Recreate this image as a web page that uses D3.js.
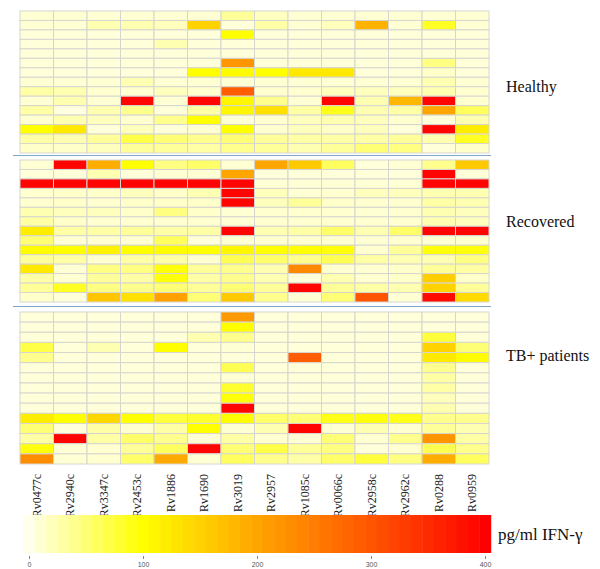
<!DOCTYPE html>
<html>
<head>
<meta charset="utf-8">
<script src="https://cdn.jsdelivr.net/npm/d3@7"></script>
<style>
  html, body { margin: 0; padding: 0; background: #ffffff; }
  svg { display: block; }
</style>
</head>
<body>
<svg id="chart" width="600" height="569"></svg>
<script>
// ---------------- DATA ----------------
const genes = ["Rv0477c","Rv2940c","Rv3347c","Rv2453c","Rv1886","Rv1690","Rv3019",
               "Rv2957","Rv1085c","Rv0066c","Rv2958c","Rv2962c","Rv0288","Rv0959"];

const groupNames = ["Healthy", "Recovered", "TB+ patients"];

// pg/ml IFN-γ, one row per subject, columns follow `genes`
const healthy = [
  [10,10,10,10,10,10,35,18,10,10,10,10,10,10],
  [10,10,25,25,20,150,8,30,10,20,185,10,85,10],
  [8,8,8,8,8,8,100,8,8,8,8,8,8,8],
  [8,8,8,8,25,8,8,8,8,8,8,8,8,8],
  [8,8,8,8,8,8,8,8,8,8,8,8,8,8],
  [8,8,8,8,8,8,220,8,8,8,8,8,45,8],
  [8,8,8,8,8,100,105,100,125,125,8,8,15,8],
  [10,10,10,25,10,10,10,10,10,10,10,10,25,10],
  [30,25,12,12,20,12,290,12,12,20,20,20,25,12],
  [10,25,10,395,10,395,110,40,10,395,25,180,395,12],
  [30,5,25,40,8,30,110,135,30,90,25,30,200,60],
  [12,25,20,12,40,100,10,12,20,25,20,12,8,25],
  [100,125,8,20,8,12,100,12,20,15,20,8,395,120],
  [30,25,35,70,50,40,50,35,30,30,30,35,25,85],
  [15,15,20,35,35,30,40,35,25,35,50,45,8,15]
];

const recovered = [
  [10,395,190,100,45,55,10,200,160,60,8,10,40,160],
  [8,8,25,8,10,10,200,8,8,8,8,8,395,8],
  [395,395,395,395,395,395,395,10,10,10,10,10,395,395],
  [12,15,15,20,15,25,395,20,10,12,20,20,25,25],
  [12,15,12,15,15,15,395,20,35,15,12,12,30,25],
  [25,20,20,15,45,15,10,12,12,12,10,12,25,20],
  [30,15,12,12,12,12,10,12,12,12,12,12,25,20],
  [120,30,30,35,30,30,395,25,30,55,25,55,395,395],
  [50,10,12,12,60,8,10,12,12,12,10,12,10,12],
  [105,100,115,100,105,100,110,100,100,95,12,35,95,95],
  [35,30,12,30,30,12,65,55,40,65,30,25,25,45],
  [125,10,45,45,95,35,40,25,235,12,12,15,35,30],
  [30,10,35,30,95,30,40,25,8,25,12,15,155,15],
  [35,85,45,40,50,35,50,35,395,35,30,25,150,35],
  [15,8,165,135,205,50,160,40,10,50,300,10,390,140]
];

const tbPatients = [
  [8,8,8,8,8,8,215,8,8,8,8,8,8,8],
  [8,8,8,8,8,8,100,8,8,8,8,8,8,8],
  [8,8,8,8,8,25,40,8,8,8,8,8,75,8],
  [70,8,25,8,100,8,10,8,8,8,8,8,150,50],
  [40,8,8,8,8,8,8,8,290,8,8,8,125,105],
  [8,8,8,8,8,8,65,8,8,8,8,8,40,8],
  [8,8,8,8,8,8,10,8,8,8,8,8,30,8],
  [8,8,8,8,8,8,80,8,8,8,8,8,30,8],
  [8,8,8,8,8,8,95,8,8,8,8,8,20,8],
  [8,8,8,8,8,8,395,8,8,8,8,8,25,8],
  [120,100,145,100,75,80,105,55,50,90,95,90,40,40],
  [50,8,30,12,30,100,10,25,395,10,25,12,35,25],
  [30,395,30,55,40,10,30,12,10,50,12,40,220,30],
  [95,10,12,35,60,395,50,70,35,45,8,12,65,40],
  [230,10,12,55,195,10,60,40,30,55,75,45,190,60]
];

const colorStops = [0, 100, 200, 300, 400];
const colorRange = ["#FFFFEC", "#FFFF00", "#FFA500", "#FF5500", "#FF0000"];
const legendTicks = [0, 100, 200, 300, 400];
const legendSteps = d3.range(0, 401, 10);

// ---------------- CHART ----------------
const SERIF = "font-family:'Liberation Serif';";
const SANS = "font-family:'Liberation Sans';";
const svg = d3.select("#chart");
const color = d3.scaleLinear().domain(colorStops).range(colorRange).clamp(true);

const x = d3.scaleBand().domain(genes).range([20, 489]).padding(0);

const panels = [
  { name: groupNames[0], rows: healthy,    y0: 11,  y1: 153, labelY: 92 },
  { name: groupNames[1], rows: recovered,  y0: 160, y1: 302, labelY: 227 },
  { name: groupNames[2], rows: tbPatients, y0: 312, y1: 464, labelY: 361 }
];

panels.forEach(p => {
  const y = d3.scaleBand().domain(d3.range(p.rows.length)).range([p.y0, p.y1]).padding(0);
  const g = svg.append("g");
  p.rows.forEach((row, ri) => {
    g.selectAll(null)
      .data(row.map((v, ci) => ({ v, gene: genes[ci] })))
      .enter().append("rect")
      .attr("x", d => x(d.gene))
      .attr("y", y(ri))
      .attr("width", x.bandwidth())
      .attr("height", y.bandwidth())
      .attr("fill", d => color(d.v))
      .attr("stroke", "#d6d6d0")
      .attr("stroke-width", 1);
  });
  svg.append("text")
    .attr("x", 506)
    .attr("y", p.labelY)
    .attr("style", SERIF + "font-size:16px")
    .attr("fill", "#111")
    .text(p.name);
});

// separators between groups
[155.5, 306.5].forEach(yy => {
  svg.append("line")
    .attr("x1", 13).attr("x2", 491)
    .attr("y1", yy).attr("y2", yy)
    .attr("stroke", "#7fa6c8")
    .attr("stroke-width", 1.2);
});

// column labels (rotated)
svg.append("g").selectAll("text")
  .data(genes)
  .enter().append("text")
  .attr("transform", d => `translate(${x(d) + x.bandwidth() / 2 + 4},474) rotate(-90)`)
  .attr("text-anchor", "end")
  .attr("style", SERIF + "font-size:12px")
  .attr("fill", "#222")
  .text(d => d);

// colour legend
const lx = d3.scaleLinear().domain([0, 400]).range([29, 485]);
const stepW = lx(10) - lx(0);
svg.append("g").selectAll("rect")
  .data(legendSteps)
  .enter().append("rect")
  .attr("x", d => lx(d) - stepW / 2)
  .attr("y", 515)
  .attr("width", stepW + 0.5)
  .attr("height", 38)
  .attr("fill", d => color(d));

const axis = d3.axisBottom(lx).tickValues(legendTicks).tickSize(3).tickPadding(3);
const ag = svg.append("g").attr("transform", "translate(0,556)").call(axis);
ag.select(".domain").remove();
ag.selectAll("line").attr("stroke", "#888");
ag.selectAll("text")
  .attr("style", SANS + "font-size:7px")
  .attr("fill", "#555");

svg.append("text")
  .attr("x", 498)
  .attr("y", 540)
  .attr("style", SERIF + "font-size:17px")
  .attr("fill", "#111")
  .text("pg/ml IFN-γ");
</script>
</body>
</html>
